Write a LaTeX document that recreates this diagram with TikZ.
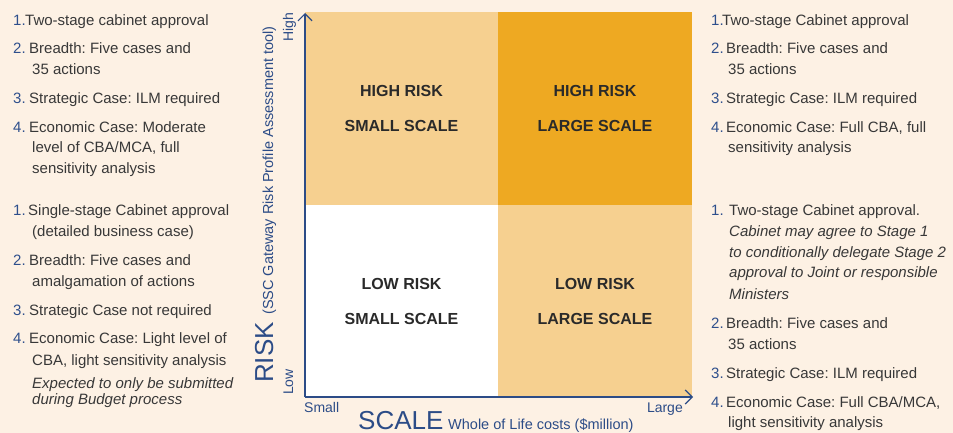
\documentclass[tikz,border=0pt]{standalone}
\usepackage{fontspec}
\setmainfont{Liberation Sans}
\usetikzlibrary{arrows.meta}
\frenchspacing

\definecolor{bgcream}{HTML}{FDF1E4}
\definecolor{lightorange}{HTML}{F6D090}
\definecolor{darkorange}{HTML}{EEA922}
\definecolor{axisnavy}{HTML}{2C4C87}
\definecolor{numblue}{HTML}{2E4F8C}
\definecolor{textgray}{HTML}{383838}
\definecolor{labelgray}{HTML}{2A2A2A}

\begin{document}
\begin{tikzpicture}[x=1pt, y=-1pt,
  body/.style={anchor=base west, inner sep=0pt, text=textgray,
    font=\fontsize{15}{18}\selectfont},
  num/.style={body, text=numblue},
  ital/.style={body, font=\fontsize{15}{18}\selectfont\itshape},
  quad/.style={draw=none, inner sep=0pt, align=center, text=labelgray,
    font=\fontsize{16}{35}\selectfont\bfseries},
  axislabel/.style={inner sep=0pt, text=axisnavy, font=\fontsize{14}{16}\selectfont},
  axistitle/.style={inner sep=0pt, text=axisnavy, font=\fontsize{26}{28}\selectfont},
  axisline/.style={draw=axisnavy, line width=1.2pt,
    -{Straight Barb[length=7pt, width=14pt]}}
]
% background and page size
\fill[bgcream] (0,0) rectangle (953,433);
\useasboundingbox (0,0) rectangle (953,433);

% the four quadrants
\node[quad, fill=lightorange, minimum width=193pt, minimum height=193pt]
  (hs) at (401.5,108.5) {HIGH RISK\\SMALL SCALE};
\node[quad, fill=darkorange, minimum width=194pt, minimum height=193pt]
  (hl) at (595,108.5) {HIGH RISK\\LARGE SCALE};
\node[quad, fill=white, minimum width=193pt, minimum height=192pt]
  (ls) at (401.5,301) {LOW RISK\\SMALL SCALE};
\node[quad, fill=lightorange, minimum width=194pt, minimum height=192pt]
  (ll) at (595,301) {LOW RISK\\LARGE SCALE};

% axes
\coordinate (origin) at (305,397);
\coordinate (ytip) at (305,13);
\coordinate (xtip) at (693,397);
\draw[axisline] (origin) -- (ytip);
\draw[axisline] (origin) -- (xtip);

% axis labels
\node[axislabel, rotate=90, anchor=base east] (high) at (293,13) {High};
\node[axislabel, rotate=90, anchor=base west] (low) at (293,395) {Low};
\node[axislabel, anchor=base west] (small) at (304,412) {Small};
\node[axislabel, anchor=base east] (large) at (683,412) {Large};
\node[axistitle, rotate=90, anchor=base west] (risk) at (273,383) {RISK};
\node[axislabel, rotate=90, anchor=base west, font=\fontsize{14.5}{16}\selectfont]
  (riskdesc) at (273,315) {(SSC Gateway Risk Profile Assessment tool)};
\node[axistitle, anchor=base west] (scale) at (358,429.5) {SCALE};
\node[axislabel, anchor=base west, font=\fontsize{14.5}{16}\selectfont]
  (scaledesc) at (448,429.5) {Whole of Life costs (\$million)};

% requirements for small-scale proposals
\node[num] (a1n) at (13,26) {1.};
\node[body] (a1a) at (25,26) {Two-stage cabinet approval};
\node[num] (a2n) at (13,54) {2.};
\node[body] (a2a) at (29,54) {Breadth: Five cases and};
\node[body] (a2b) at (32,75) {35 actions};
\node[num] (a3n) at (13,104) {3.};
\node[body] (a3a) at (29,104) {Strategic Case: ILM required};
\node[num] (a4n) at (13,133) {4.};
\node[body] (a4a) at (29,133) {Economic Case: Moderate};
\node[body] (a4b) at (32,153) {level of CBA/MCA, full};
\node[body] (a4c) at (32,174) {sensitivity analysis};

\node[num] (b1n) at (13,215) {1.};
\node[body] (b1a) at (28,215) {Single-stage Cabinet approval};
\node[body] (b1b) at (32,236) {(detailed business case)};
\node[num] (b2n) at (13,265) {2.};
\node[body] (b2a) at (29,265) {Breadth: Five cases and};
\node[body] (b2b) at (32,286) {amalgamation of actions};
\node[num] (b3n) at (13,315) {3.};
\node[body] (b3a) at (29,315) {Strategic Case not required};
\node[num] (b4n) at (13,343) {4.};
\node[body] (b4a) at (29,343) {Economic Case: Light level of};
\node[body] (b4b) at (32,365) {CBA, light sensitivity analysis};
\node[ital] (b4c) at (32,388) {Expected to only be submitted};
\node[ital] (b4d) at (32,404) {during Budget process};

% requirements for large-scale proposals
\node[num] (c1n) at (711,26) {1.};
\node[body] (c1a) at (722,26) {Two-stage Cabinet approval};
\node[num] (c2n) at (711,54) {2.};
\node[body] (c2a) at (726,54) {Breadth: Five cases and};
\node[body] (c2b) at (728,75) {35 actions};
\node[num] (c3n) at (711,104) {3.};
\node[body] (c3a) at (726,104) {Strategic Case: ILM required};
\node[num] (c4n) at (711,133) {4.};
\node[body] (c4a) at (726,133) {Economic Case: Full CBA, full};
\node[body] (c4b) at (728,153) {sensitivity analysis};

\node[num] (d1n) at (711,215) {1.};
\node[body] (d1a) at (729,215) {Two-stage Cabinet approval.};
\node[ital] (d1b) at (729,236) {Cabinet may agree to Stage 1};
\node[ital] (d1c) at (729,257) {to conditionally delegate Stage 2};
\node[ital] (d1d) at (729,277) {approval to Joint or responsible};
\node[ital] (d1e) at (729,299) {Ministers};
\node[num] (d2n) at (711,328) {2.};
\node[body] (d2a) at (726,328) {Breadth: Five cases and};
\node[body] (d2b) at (728,349) {35 actions};
\node[num] (d3n) at (711,378) {3.};
\node[body] (d3a) at (726,378) {Strategic Case: ILM required};
\node[num] (d4n) at (711,407) {4.};
\node[body] (d4a) at (726,407) {Economic Case: Full CBA/MCA,};
\node[body] (d4b) at (728,427) {light sensitivity analysis};
\end{tikzpicture}
\end{document}
